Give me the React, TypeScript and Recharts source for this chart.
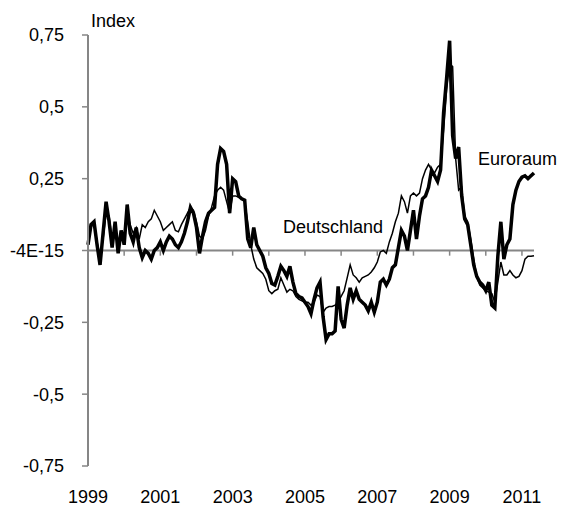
import React from 'react';
import { LineChart, Line, XAxis, YAxis, ReferenceLine } from 'recharts';

// monthly values, Jan 1999 .. May 2011
const euroraum = [
  0.02, 0.09, 0.10, 0.02, -0.05, 0.06, 0.17, 0.10, 0.01, 0.10, -0.01, 0.07,
  0.02, 0.16, 0.06, 0.03, 0.08, 0.01, -0.025, 0.0, -0.01, -0.03, 0.0, 0.01,
  0.03, 0.0, 0.03, 0.05, 0.04, 0.02, 0.01, 0.03, 0.06, 0.10, 0.15, 0.13,
  0.08, -0.01, 0.05, 0.10, 0.13, 0.14, 0.15, 0.30, 0.355, 0.345, 0.30, 0.13,
  0.25, 0.24, 0.19, 0.18, 0.175, 0.04, 0.01, 0.08, 0.02, 0.0, -0.02, -0.06,
  -0.08, -0.115, -0.12, -0.09, -0.055, -0.07, -0.09, -0.055, -0.11, -0.15, -0.16, -0.165,
  -0.18, -0.195, -0.22, -0.17, -0.13, -0.11, -0.23, -0.31, -0.29, -0.29, -0.28, -0.125,
  -0.24, -0.27, -0.19, -0.13, -0.17, -0.14, -0.17, -0.18, -0.19, -0.21, -0.18, -0.215,
  -0.18, -0.11, -0.10, -0.12, -0.10, -0.06, -0.05, 0.01, 0.07, 0.05, 0.0, 0.07,
  0.14, 0.04, 0.12, 0.18, 0.19, 0.22, 0.28, 0.26, 0.24, 0.28, 0.48, 0.60,
  0.73, 0.40, 0.32, 0.36, 0.19, 0.11, 0.09, 0.02, -0.05, -0.09, -0.11, -0.12,
  -0.14, -0.11, -0.19, -0.20, -0.02, 0.10, -0.03, 0.02, 0.04, 0.16, 0.21, 0.24,
  0.255, 0.26, 0.25, 0.26, 0.27,
];

const deutschland = [
  0.03, 0.08, 0.10, 0.03, -0.02, 0.04, 0.13, 0.12, 0.04, 0.09, 0.02, 0.06,
  0.05, 0.13, 0.09, 0.06, 0.08, 0.04, 0.09, 0.08, 0.10, 0.11, 0.14, 0.12,
  0.10, 0.07, 0.08, 0.09, 0.10, 0.07, 0.065, 0.09, 0.11, 0.13, 0.15, 0.14,
  0.10, 0.05, 0.04, 0.07, 0.12, 0.15, 0.19, 0.21, 0.22, 0.21, 0.17, 0.13,
  0.19, 0.19, 0.185, 0.18, 0.17, 0.10, 0.02, -0.03, -0.06, -0.07, -0.08, -0.10,
  -0.14, -0.15, -0.14, -0.135, -0.095, -0.12, -0.145, -0.135, -0.14, -0.16, -0.17, -0.175,
  -0.18, -0.18, -0.19, -0.18, -0.155, -0.16, -0.215, -0.20, -0.195, -0.195, -0.19, -0.18,
  -0.16, -0.14, -0.095, -0.05, -0.085, -0.095, -0.11, -0.095, -0.09, -0.085, -0.075, -0.06,
  -0.04, -0.005, 0.0, -0.01, 0.03, 0.06, 0.10, 0.13, 0.19, 0.17, 0.13, 0.19,
  0.20, 0.19, 0.20, 0.25, 0.28, 0.30, 0.28, 0.27, 0.29, 0.30, 0.42, 0.56,
  0.65, 0.64, 0.32, 0.21, 0.22, 0.12, 0.10, 0.04, -0.03, -0.09, -0.12, -0.13,
  -0.14, -0.145, -0.15, -0.18, -0.11, -0.04, -0.085, -0.085, -0.07, -0.085, -0.095, -0.09,
  -0.07, -0.03, -0.02, -0.02, -0.018,
];

const firstYear = 1999;
const labelMonths = [0, 24, 48, 72, 96, 120, 144]; // 1999, 2001, ... 2011
const yearTicks = [12, 24, 36, 48, 60, 72, 84, 96, 108, 120, 132, 144];
const yTicks = [-0.75, -0.5, -0.25, 0, 0.25, 0.5, 0.75];

const data = euroraum.map((v, i) => ({ m: i, euro: v, de: deutschland[i] }));

const AXIS = '#868686';
const FONT = 'Liberation Sans, Arial, sans-serif';

const fmtY = (v: number) => (v === 0 ? '-4E-15' : String(v).replace('.', ','));

export default function App() {
  return (
    <div style={{ position: 'absolute', left: 0, top: 0, width: 561, height: 508, background: '#fff' }}>
      <LineChart width={561} height={508} data={data} margin={{ top: 35, right: 27, bottom: 0, left: 0 }}>
        <XAxis
          dataKey="m"
          type="number"
          domain={[0, 148]}
          ticks={labelMonths}
          interval={0}
          tickFormatter={(v: number) => String(firstYear + v / 12)}
          axisLine={false}
          tickLine={false}
          tickSize={6}
          tickMargin={18}
          height={42}
          tick={{ fill: '#000', fontSize: 18, fontFamily: FONT }}
        />
        <YAxis
          domain={[-0.75, 0.75]}
          ticks={yTicks}
          width={88}
          interval={0}
          allowDataOverflow
          tickFormatter={fmtY}
          axisLine={{ stroke: AXIS, strokeWidth: 2 }}
          tickLine={{ stroke: AXIS, strokeWidth: 1.5 }}
          tickSize={6}
          tickMargin={18}
          tick={{ fill: '#000', fontSize: 18, fontFamily: FONT }}
        />
        <ReferenceLine y={0} stroke={AXIS} strokeWidth={2} />
        {yearTicks.map((t) => (
          <ReferenceLine
            key={t}
            segment={[{ x: t, y: 0 }, { x: t, y: -0.018 }]}
            stroke={AXIS}
            strokeWidth={1.5}
          />
        ))}
        <Line dataKey="de" stroke="#000" strokeWidth={1.5} dot={false} isAnimationActive={false} />
        <Line dataKey="euro" stroke="#000" strokeWidth={3.5} dot={false} isAnimationActive={false} />
      </LineChart>
      <svg width={561} height={508} style={{ position: 'absolute', left: 0, top: 0, pointerEvents: 'none' }}>
        <g fontFamily={FONT} fontSize={18} fill="#000">
          <text x={91} y={27}>Index</text>
          <text x={478} y={165}>Euroraum</text>
          <text x={283} y={233}>Deutschland</text>
        </g>
      </svg>
    </div>
  );
}
